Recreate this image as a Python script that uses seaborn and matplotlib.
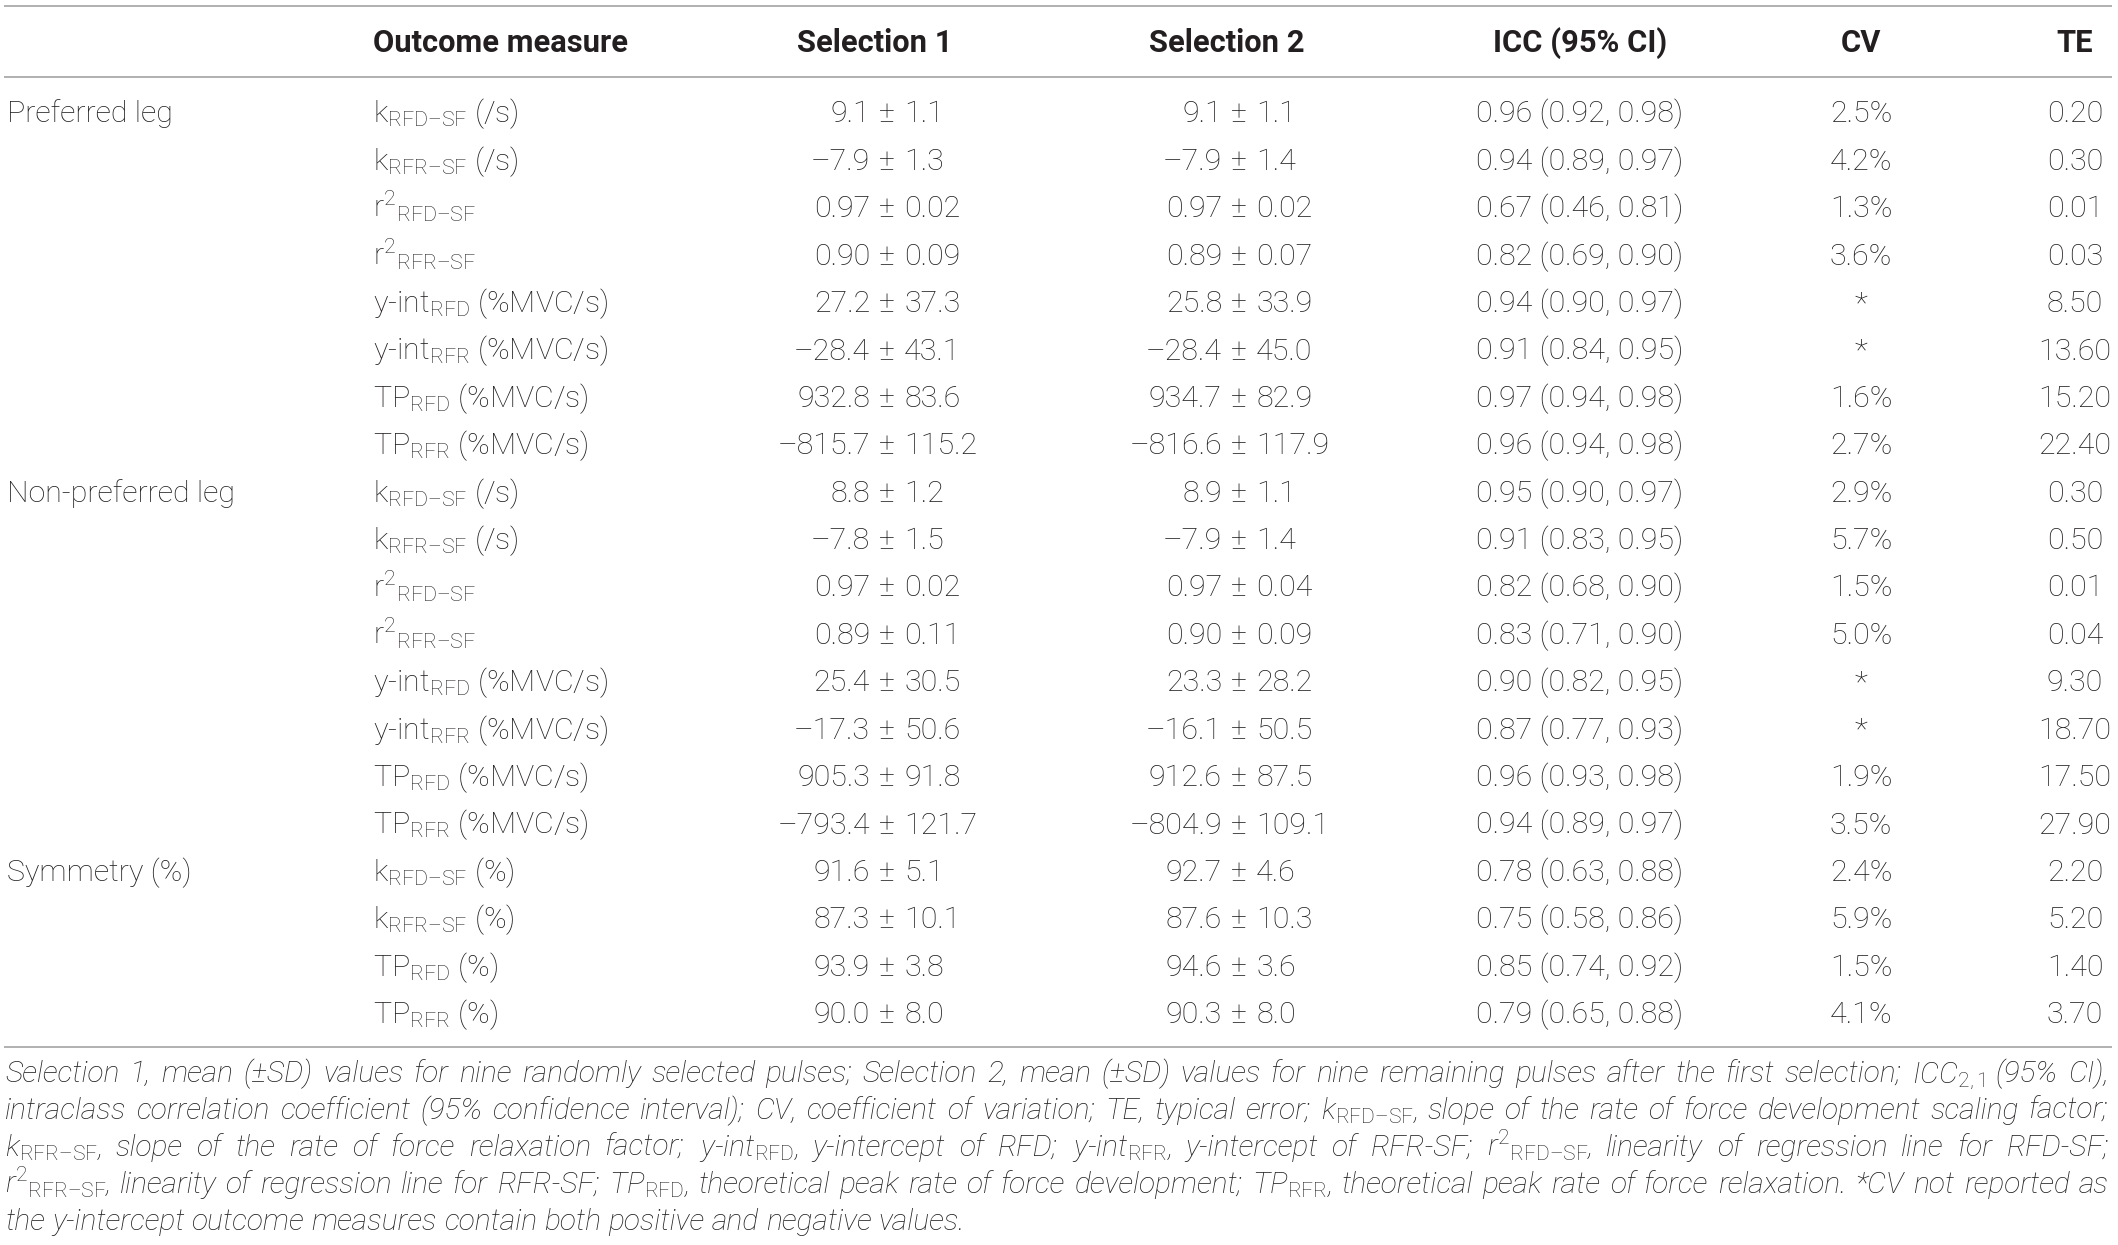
"""Test-retest table for the RFD/RFR scaling factor outcomes (two pulse selections)."""

import matplotlib
matplotlib.use("Agg")
import matplotlib.pyplot as plt
import pandas as pd
import seaborn as sns


W, H = 2118, 1245
DPI = 100
INK = "#231f20"
RULE = "#a3a3a3"

HEADERS = ["Outcome measure", "Selection 1", "Selection 2", "ICC (95% CI)", "CV", "TE"]
GROUPS = ["Preferred leg", "Non-preferred leg", "Symmetry (%)"]
GROUP_SIZES = [8, 8, 4]

K_RFD = r"k$_{\mathrm{RFD–SF}}$"
K_RFR = r"k$_{\mathrm{RFR–SF}}$"
R2_RFD = r"r$^{2}{}_{\mathrm{RFD–SF}}$"
R2_RFR = r"r$^{2}{}_{\mathrm{RFR–SF}}$"
YI_RFD = r"y-int$_{\mathrm{RFD}}$"
YI_RFR = r"y-int$_{\mathrm{RFR}}$"
TP_RFD = r"TP$_{\mathrm{RFD}}$"
TP_RFR = r"TP$_{\mathrm{RFR}}$"

LEG_MEASURES = [
    K_RFD + " (/s)", K_RFR + " (/s)", R2_RFD, R2_RFR,
    YI_RFD + " (%MVC/s)", YI_RFR + " (%MVC/s)",
    TP_RFD + " (%MVC/s)", TP_RFR + " (%MVC/s)",
]
SYM_MEASURES = [K_RFD + " (%)", K_RFR + " (%)", TP_RFD + " (%)", TP_RFR + " (%)"]
MEASURES = LEG_MEASURES + LEG_MEASURES + SYM_MEASURES

SEL1_MEAN = ["9.1", "–7.9", "0.97", "0.90", "27.2", "–28.4", "932.8", "–815.7",
             "8.8", "–7.8", "0.97", "0.89", "25.4", "–17.3", "905.3", "–793.4",
             "91.6", "87.3", "93.9", "90.0"]
SEL1_SD = ["1.1", "1.3", "0.02", "0.09", "37.3", "43.1", "83.6", "115.2",
           "1.2", "1.5", "0.02", "0.11", "30.5", "50.6", "91.8", "121.7",
           "5.1", "10.1", "3.8", "8.0"]
SEL2_MEAN = ["9.1", "–7.9", "0.97", "0.89", "25.8", "–28.4", "934.7", "–816.6",
             "8.9", "–7.9", "0.97", "0.90", "23.3", "–16.1", "912.6", "–804.9",
             "92.7", "87.6", "94.6", "90.3"]
SEL2_SD = ["1.1", "1.4", "0.02", "0.07", "33.9", "45.0", "82.9", "117.9",
           "1.1", "1.4", "0.04", "0.09", "28.2", "50.5", "87.5", "109.1",
           "4.6", "10.3", "3.6", "8.0"]
ICC = ["0.96", "0.94", "0.67", "0.82", "0.94", "0.91", "0.97", "0.96",
       "0.95", "0.91", "0.82", "0.83", "0.90", "0.87", "0.96", "0.94",
       "0.78", "0.75", "0.85", "0.79"]
ICC_LO = ["0.92", "0.89", "0.46", "0.69", "0.90", "0.84", "0.94", "0.94",
          "0.90", "0.83", "0.68", "0.71", "0.82", "0.77", "0.93", "0.89",
          "0.63", "0.58", "0.74", "0.65"]
ICC_HI = ["0.98", "0.97", "0.81", "0.90", "0.97", "0.95", "0.98", "0.98",
          "0.97", "0.95", "0.90", "0.90", "0.95", "0.93", "0.98", "0.97",
          "0.88", "0.86", "0.92", "0.88"]
CV = ["2.5%", "4.2%", "1.3%", "3.6%", "*", "*", "1.6%", "2.7%",
      "2.9%", "5.7%", "1.5%", "5.0%", "*", "*", "1.9%", "3.5%",
      "2.4%", "5.9%", "1.5%", "4.1%"]
TE = ["0.20", "0.30", "0.01", "0.03", "8.50", "13.60", "15.20", "22.40",
      "0.30", "0.50", "0.01", "0.04", "9.30", "18.70", "17.50", "27.90",
      "2.20", "5.20", "1.40", "3.70"]

FOOTNOTE = [
    r"Selection 1, mean (±SD) values for nine randomly selected pulses; Selection 2, mean (±SD) "
    r"values for nine remaining pulses after the first selection; ICC$_{\mathrm{2,1}}$ (95% CI),",
    r"intraclass correlation coefficient (95% confidence interval); CV, coefficient of variation; "
    r"TE, typical error; k$_{\mathrm{RFD–SF}}$, slope of the rate of force development scaling factor;",
    r"k$_{\mathrm{RFR–SF}}$, slope of the rate of force relaxation factor; y-int$_{\mathrm{RFD}}$, "
    r"y-intercept of RFD; y-int$_{\mathrm{RFR}}$, y-intercept of RFR-SF; r$^{2}{}_{\mathrm{RFD–SF}}$, "
    r"linearity of regression line for RFD-SF;",
    r"r$^{2}{}_{\mathrm{RFR–SF}}$, linearity of regression line for RFR-SF; TP$_{\mathrm{RFD}}$, "
    r"theoretical peak rate of force development; TP$_{\mathrm{RFR}}$, theoretical peak rate of "
    r"force relaxation. *CV not reported as",
    r"the y-intercept outcome measures contain both positive and negative values.",
]

# layout, in output pixels
X_GROUP, X_MEASURE = 7, 373
X_SEL1_HEAD, X_SEL1_PM = 875, 887
X_SEL2_HEAD, X_SEL2_PM = 1227, 1239
X_ICC, X_CV, X_TE = 1580, 1861, 2075
PM_GAP = 17
RULE_X = (4, 2112)
RULE_Y = (6, 77, 1047)
HEAD_BASE = 52
ROW_BASE, ROW_STEP = 122.5, 47.4
NOTE_X, NOTE_RIGHT = 5, 2109
NOTE_BASE, NOTE_STEP = 1082, 37


def fitted_size(ax, renderer, text, target, **kw):
    t = ax.text(0, 0, text, fontsize=20, **kw)
    width = t.get_window_extent(renderer).width
    t.remove()
    return 20 * target / width


def main():
    sns.set_theme(style="white")
    plt.rcParams["font.family"] = ["Roboto", "DejaVu Sans"]
    plt.rcParams["mathtext.fontset"] = "custom"
    plt.rcParams["mathtext.rm"] = "Roboto:light"
    plt.rcParams["mathtext.it"] = "Roboto:italic:light"
    plt.rcParams["mathtext.bf"] = "Roboto:bold"

    groups = [g if i == 0 else "" for g, n in zip(GROUPS, GROUP_SIZES) for i in range(n)]
    table = pd.DataFrame({
        "group": groups, "measure": MEASURES,
        "s1m": SEL1_MEAN, "s1sd": SEL1_SD, "s2m": SEL2_MEAN, "s2sd": SEL2_SD,
        "icc": ICC, "lo": ICC_LO, "hi": ICC_HI, "cv": CV, "te": TE,
    })

    fig = plt.figure(figsize=(W / DPI, H / DPI), dpi=DPI)
    ax = fig.add_axes([0, 0, 1, 1])
    ax.set_xlim(0, W)
    ax.set_ylim(H, 0)
    ax.axis("off")
    renderer = fig.canvas.get_renderer()

    body = dict(color=INK, fontweight="light", va="baseline")
    head = dict(color=INK, fontweight="bold", va="baseline")
    note = dict(color=INK, fontweight="light", fontstyle="italic", va="baseline")
    body["fontsize"] = fitted_size(ax, renderer, "0.96 (0.92, 0.98)", 208, fontweight="light")
    head["fontsize"] = fitted_size(ax, renderer, "Outcome measure", 254, fontweight="bold")
    note["fontsize"] = fitted_size(ax, renderer, FOOTNOTE[-1], 962,
                                   fontweight="light", fontstyle="italic")

    for y in RULE_Y:
        ax.plot(RULE_X, (y, y), color=RULE, lw=1.2, solid_capstyle="butt")

    head_x = [(X_MEASURE, "left"), (X_SEL1_HEAD, "center"), (X_SEL2_HEAD, "center"),
              (X_ICC, "center"), (X_CV, "center"), (X_TE, "center")]
    for label, (x, ha) in zip(HEADERS, head_x):
        ax.text(x, HEAD_BASE, label, ha=ha, **head)

    for i, row in table.iterrows():
        y = ROW_BASE + i * ROW_STEP
        if row.group:
            ax.text(X_GROUP, y, row.group, ha="left", **body)
        ax.text(X_MEASURE, y, row.measure, ha="left", **body)
        for xpm, m, sd in ((X_SEL1_PM, row.s1m, row.s1sd), (X_SEL2_PM, row.s2m, row.s2sd)):
            ax.text(xpm - PM_GAP, y, m, ha="right", **body)
            ax.text(xpm, y, "±", ha="center", **body)
            ax.text(xpm + PM_GAP, y, sd, ha="left", **body)
        ax.text(X_ICC, y, f"{row.icc} ({row.lo}, {row.hi})", ha="center", **body)
        ax.text(X_CV, y, row.cv, ha="center", **body)
        ax.text(X_TE, y, row.te, ha="center", **body)

    # footnote: justified lines except the last
    a = ax.text(0, 0, "a a", **note)
    b = ax.text(0, 0, "aa", **note)
    space = a.get_window_extent(renderer).width - b.get_window_extent(renderer).width
    a.remove()
    b.remove()
    for k, line in enumerate(FOOTNOTE):
        y = NOTE_BASE + k * NOTE_STEP
        words = line.split(" ")
        texts = [ax.text(NOTE_X, y, w, ha="left", **note) for w in words]
        widths = [t.get_window_extent(renderer).width for t in texts]
        gap = space
        if k < len(FOOTNOTE) - 1:
            gap = (NOTE_RIGHT - NOTE_X - sum(widths)) / (len(words) - 1)
        x = NOTE_X
        for t, w in zip(texts, widths):
            t.set_x(x)
            x += w + gap

    fig.savefig("out.png", dpi=DPI, facecolor="white")
    plt.close(fig)


if __name__ == "__main__":
    main()
